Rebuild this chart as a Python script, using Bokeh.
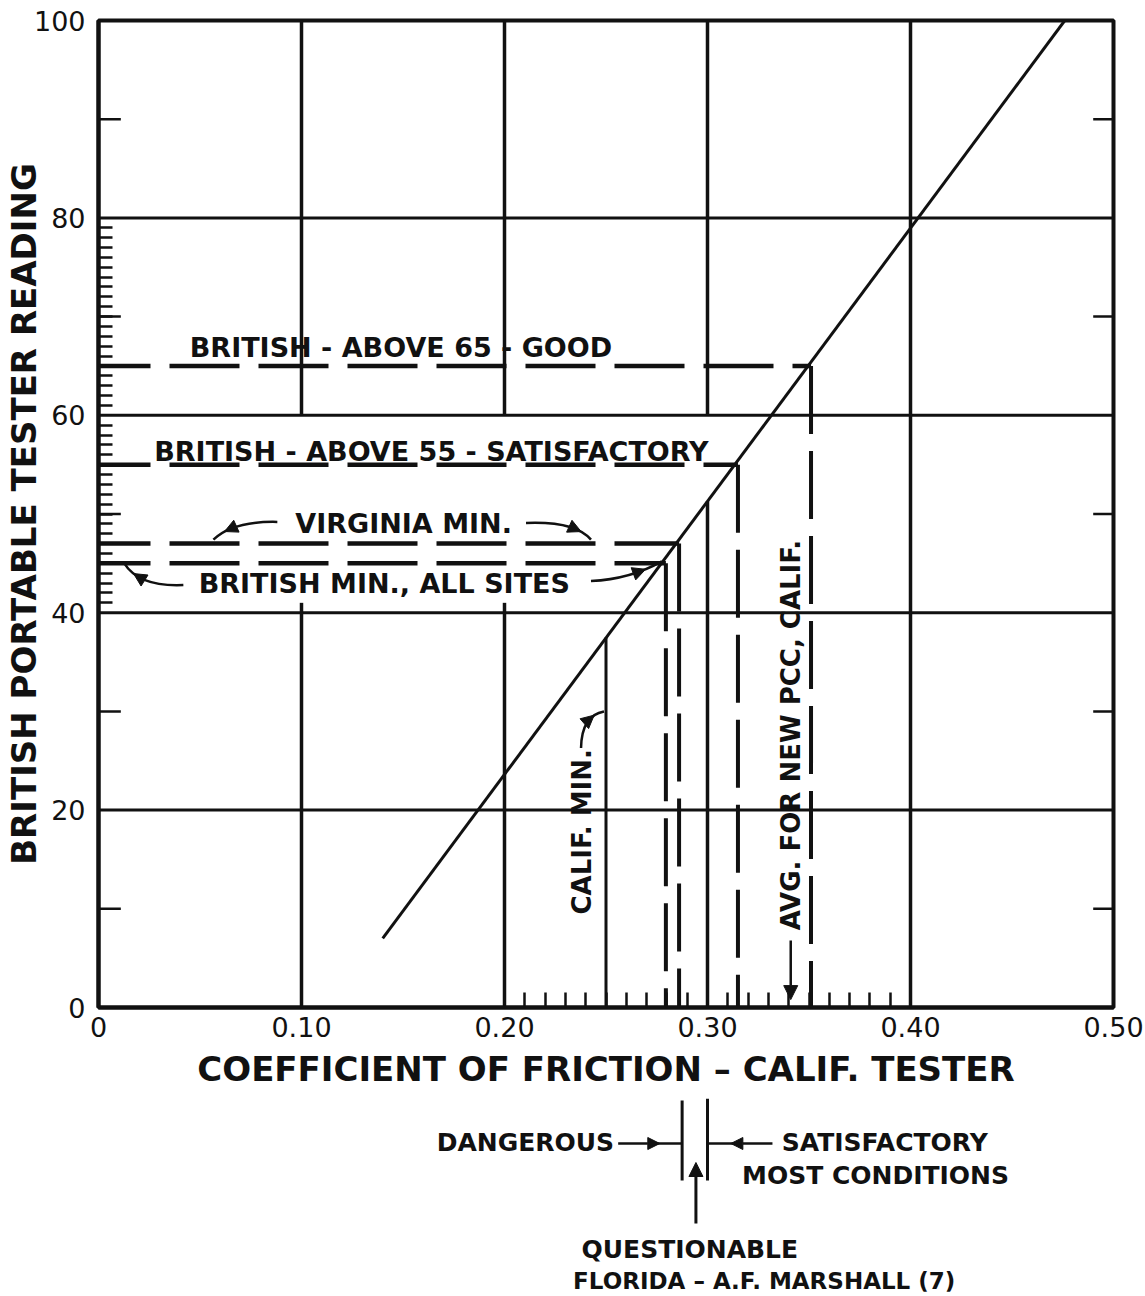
from bokeh.plotting import figure
from bokeh.models import Range1d, FixedTicker, CustomJSTickFormatter, Arrow, NormalHead
from bokeh.layouts import column
from bokeh.core.properties import value
from bokeh.embed import file_html
from bokeh.resources import INLINE
import math

# ---------------- data ----------------
x_ticks = [0, 0.1, 0.2, 0.3, 0.4, 0.5]
y_ticks = [0, 20, 40, 60, 80, 100]
x_minor_ticks = [0.21, 0.22, 0.23, 0.24, 0.25, 0.26, 0.27, 0.28, 0.29,
                 0.31, 0.32, 0.33, 0.34, 0.35, 0.36, 0.37, 0.38, 0.39]
y_minor_ticks = [41, 42, 43, 44, 45, 46, 47, 48, 49, 50, 51, 52, 53, 54, 55, 56, 57, 58, 59,
                 61, 62, 63, 64, 65, 66, 67, 68, 69, 70, 71, 72, 73, 74, 75, 76, 77, 78, 79]
y_mid_ticks = [10, 30, 50, 70, 90]

# correlation line (Calif. tester coefficient vs British pendulum reading)
correlation_cof = [0.14, 0.476]
correlation_bpn = [7, 100]

# criteria (horizontal dashed levels and their intersections with the correlation)
criteria_text = ["BRITISH - ABOVE 65 - GOOD",
                 "BRITISH - ABOVE 55 - SATISFACTORY",
                 "VIRGINIA  MIN.",
                 "BRITISH MIN., ALL SITES"]
criteria_bpn = [65, 55, 47, 45]
criteria_cof = [0.351, 0.315, 0.286, 0.2795]

calif_min_cof = 0.25
calif_min_bpn = 37.5
boundary_cof = 0.30
boundary_bpn = 51.3
avg_new_pcc_cof = 0.341
florida_limits = [0.2875, 0.30]

FONT = value("DejaVu Sans")
INK = "#111111"

# ---------------- main figure ----------------
p = figure(width=1145, height=1098, x_range=Range1d(0, 0.5), y_range=Range1d(0, 100),
           output_backend="svg", toolbar_location=None,
           min_border_left=97, min_border_right=32, min_border_top=20, min_border_bottom=91)
p.grid.visible = False
p.outline_line_color = INK
p.outline_line_width = 4
p.background_fill_color = "white"
p.border_fill_color = "white"

xa = p.xaxis[0]
xa.ticker = FixedTicker(ticks=x_ticks, minor_ticks=x_minor_ticks)
xa.formatter = CustomJSTickFormatter(code="return tick == 0 ? '0' : tick.toFixed(2);")
xa.major_tick_in = 0
xa.major_tick_out = 0
xa.minor_tick_in = 15
xa.minor_tick_out = 0
xa.minor_tick_line_width = 2.5
xa.minor_tick_line_color = INK
xa.axis_line_width = 4
xa.axis_line_color = INK
xa.major_label_text_font = "DejaVu Sans"
xa.major_label_text_font_size = "27px"
xa.major_label_text_color = INK
xa.major_label_standoff = 9
xa.axis_label = "COEFFICIENT OF FRICTION \u2013 CALIF. TESTER"
xa.axis_label_text_font = "DejaVu Sans"
xa.axis_label_text_font_style = "bold"
xa.axis_label_text_font_size = "34px"
xa.axis_label_text_color = INK
xa.axis_label_standoff = 9

ya = p.yaxis[0]
ya.ticker = FixedTicker(ticks=y_ticks, minor_ticks=y_minor_ticks)
ya.major_tick_in = 0
ya.major_tick_out = 0
ya.minor_tick_in = 14
ya.minor_tick_out = 0
ya.minor_tick_line_width = 2.5
ya.minor_tick_line_color = INK
ya.axis_line_width = 4
ya.axis_line_color = INK
ya.major_label_text_font = "DejaVu Sans"
ya.major_label_text_font_size = "27px"
ya.major_label_text_color = INK
ya.major_label_standoff = 13
ya.axis_label = "BRITISH PORTABLE TESTER READING"
ya.axis_label_text_font = "DejaVu Sans"
ya.axis_label_text_font_style = "bold"
ya.axis_label_text_font_size = "34px"
ya.axis_label_text_color = INK
ya.axis_label_standoff = -13

# grid (drawn as segments, with the open band between 40 and 60)
p.segment(x0=[0] * 4, x1=[0.5] * 4, y0=[20, 40, 60, 80], y1=[20, 40, 60, 80],
          line_color=INK, line_width=3)
vx = [0.1, 0.1, 0.1, 0.2, 0.2, 0.2, 0.3, 0.3, 0.4]
vy0 = [0, 40, 60, 0, 40, 60, 0, 60, 0]
vy1 = [40, 41, 100, 40, 41, 100, boundary_bpn, 100, 100]
p.segment(x0=vx, x1=vx, y0=vy0, y1=vy1, line_color=INK, line_width=3.5)

# medium ticks left and right
p.segment(x0=[0] * 5, x1=[0.011] * 5, y0=y_mid_ticks, y1=y_mid_ticks, line_color=INK, line_width=2.5)
p.segment(x0=[0.49] * 5, x1=[0.5] * 5, y0=y_mid_ticks, y1=y_mid_ticks, line_color=INK, line_width=2.5)

# correlation line
p.line(correlation_cof, correlation_bpn, line_color=INK, line_width=3)

# criteria dashed lines
for lvl, cof in zip(criteria_bpn, criteria_cof):
    p.line([0, cof], [lvl, lvl], line_color=INK, line_width=4.5, line_dash="70 19", line_dash_offset=18)
    p.line([cof, cof], [lvl, 0], line_color=INK, line_width=4, line_dash="68 17")

# calif min
p.line([calif_min_cof, calif_min_cof], [0, calif_min_bpn], line_color=INK, line_width=3)

# labels
p.text(x=[0.149, 0.164, 0.1526, 0.1408], y=[66.9, 56.3, 49.0, 43.0], text=criteria_text,
       text_font=FONT, text_font_style="bold", text_font_size="27px", text_color=INK,
       text_align="center", text_baseline="middle")
p.text(x=[0.238, avg_new_pcc_cof], y=[17.8, 27.6], text=["CALIF. MIN.", "AVG. FOR NEW PCC, CALIF."],
       angle=math.pi / 2, text_font=FONT, text_font_style="bold", text_font_size="26px",
       text_color=INK, text_align="center", text_baseline="middle")

# curved leaders
cx0 = [0.0881, 0.2106, 0.0418, 0.2426, 0.2377]
cy0 = [49.2, 49.1, 42.8, 43.2, 26.3]
cxc = [0.066, 0.235, 0.020, 0.262, 0.2380]
cyc = [49.3, 49.3, 42.6, 43.4, 29.6]
cx1 = [0.0566, 0.2426, 0.0127, 0.2775, 0.2490]
cy1 = [47.4, 47.4, 45.0, 45.2, 30.0]
p.quadratic(x0=cx0, y0=cy0, x1=cx1, y1=cy1, cx=cxc, cy=cyc, line_color=INK, line_width=2.5)
for a, b, c, d, e, f in zip(cxc, cyc, cx1, cy1, cx0, cy0):
    t = 0.75
    hx = (1 - t) ** 2 * e + 2 * (1 - t) * t * a + t ** 2 * c
    hy = (1 - t) ** 2 * f + 2 * (1 - t) * t * b + t ** 2 * d
    t2 = 0.6
    gx = (1 - t2) ** 2 * e + 2 * (1 - t2) * t2 * a + t2 ** 2 * c
    gy = (1 - t2) ** 2 * f + 2 * (1 - t2) * t2 * b + t2 ** 2 * d
    p.add_layout(Arrow(end=NormalHead(size=13, fill_color=INK, line_color=INK, line_width=1),
                       x_start=gx, y_start=gy, x_end=hx, y_end=hy, line_color=INK, line_width=2.5))

p.add_layout(Arrow(end=NormalHead(size=14, fill_color=INK, line_color=INK, line_width=1),
                   x_start=avg_new_pcc_cof, y_start=6.8, x_end=avg_new_pcc_cof, y_end=0.8,
                   line_color=INK, line_width=2.5))

# ---------------- lower annotation panel ----------------
q = figure(width=1145, height=198, x_range=p.x_range, y_range=Range1d(198, 0),
           output_backend="svg", toolbar_location=None, x_axis_type=None, y_axis_type=None,
           min_border_left=97, min_border_right=32, min_border_top=0, min_border_bottom=0)
q.grid.visible = False
q.outline_line_color = None

q.segment(x0=florida_limits, x1=florida_limits, y0=[2, 0], y1=[82, 82], line_color=INK, line_width=3)
q.text(x=[0.254], y=[44], text=["DANGEROUS"], text_font=FONT, text_font_style="bold",
       text_font_size="25px", text_color=INK, text_align="right", text_baseline="middle")
q.text(x=[0.3366, 0.317], y=[44, 77], text=["SATISFACTORY", "MOST CONDITIONS"], text_font=FONT,
       text_font_style="bold", text_font_size="25px", text_color=INK, text_align="left",
       text_baseline="middle")
q.text(x=[0.2913], y=[151], text=["QUESTIONABLE"],
       text_font=FONT, text_font_style="bold", text_font_size="25px", text_color=INK,
       text_align="center", text_baseline="middle")
q.text(x=[0.2338], y=[182], text=["FLORIDA \u2013 A.F. MARSHALL (7)"],
       text_font=FONT, text_font_style="bold", text_font_size="23px", text_color=INK,
       text_align="left", text_baseline="middle")

q.segment(x0=[0.2745, 0.3135], x1=[florida_limits[0], florida_limits[1]], y0=[45, 45], y1=[45, 45],
          line_color=INK, line_width=2.5)
q.add_layout(Arrow(end=NormalHead(size=12, fill_color=INK, line_color=INK, line_width=1),
                   x_start=0.256, y_start=45, x_end=0.2765, y_end=45, line_color=INK, line_width=2.5))
q.add_layout(Arrow(end=NormalHead(size=12, fill_color=INK, line_color=INK, line_width=1),
                   x_start=0.332, y_start=45, x_end=0.3115, y_end=45, line_color=INK, line_width=2.5))
q.add_layout(Arrow(end=NormalHead(size=14, fill_color=INK, line_color=INK, line_width=1),
                   x_start=0.2943, y_start=125, x_end=0.2943, y_end=64, line_color=INK, line_width=3))

layout = column(p, q, spacing=0)
open("out.html", "w").write(file_html(layout, INLINE))
